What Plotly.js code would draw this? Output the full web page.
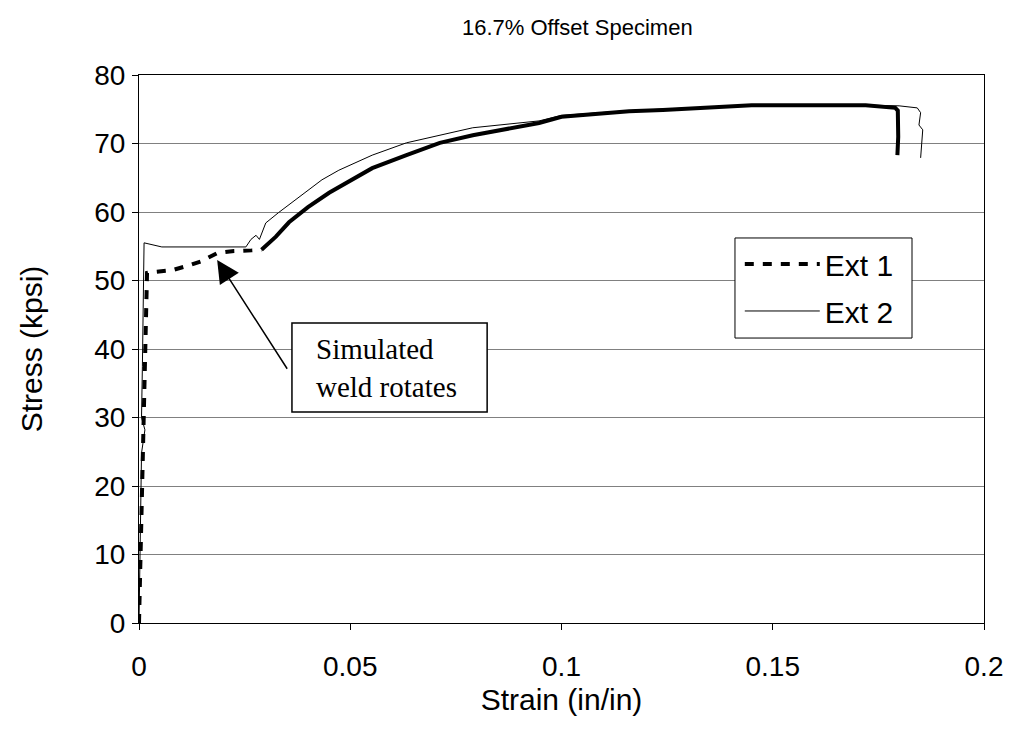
<!DOCTYPE html>
<html>
<head>
<meta charset="utf-8">
<script src="https://cdn.plot.ly/plotly-3.0.1.min.js"></script>
<style>html,body{margin:0;padding:0;background:#fff;}#chart{width:1011px;height:729px;}</style>
</head>
<body>
<div id="chart"></div>
<script>
// Ext 1 (dashed, elastic + weld rotation region)
const ext1DashStrain = [0, 0.0003, 0.0008, 0.0013, 0.0018, 0.0019, 0.0028, 0.0078, 0.0123, 0.0147, 0.0185, 0.0225, 0.0267, 0.029];
const ext1DashStress = [0, 8, 20, 32, 44, 51.1, 51.2, 51.5, 52.3, 52.8, 54.0, 54.3, 54.4, 54.5];
// Ext 1 (dense data, appears solid and thick)
const ext1Strain = [0.029, 0.0324, 0.0355, 0.040, 0.045, 0.0504, 0.0552, 0.0633, 0.0712, 0.079, 0.087, 0.0947, 0.100, 0.108, 0.116, 0.124, 0.1334, 0.145, 0.172, 0.179, 0.1796, 0.1797, 0.1795];
const ext1Stress = [54.5, 56.4, 58.5, 60.7, 62.8, 64.7, 66.4, 68.3, 70.1, 71.2, 72.1, 73.0, 73.9, 74.3, 74.7, 74.9, 75.2, 75.6, 75.6, 75.2, 74.8, 71.0, 68.3];
// Ext 2 (thin solid)
const ext2Strain = [0, 0.0004, 0.0006, 0.0014, 0.0006, 0.0008, 0.0012, 0.0054, 0.0253, 0.0265, 0.0277, 0.0285, 0.030, 0.033, 0.037, 0.0433, 0.0473, 0.0552, 0.0633, 0.0712, 0.079, 0.0947, 0.100, 0.116, 0.1334, 0.145, 0.172, 0.1799, 0.1842, 0.185, 0.1846, 0.1855, 0.185];
const ext2Stress = [0, 18, 24.8, 28.2, 30.0, 37.4, 55.5, 54.9, 54.9, 56.0, 56.6, 56.0, 58.4, 59.9, 61.8, 64.7, 66.1, 68.3, 70.1, 71.2, 72.3, 73.3, 74.1, 74.8, 75.3, 75.6, 75.6, 75.5, 75.2, 74.5, 72.7, 72.0, 67.9];

const xTicks = [0, 0.05, 0.1, 0.15, 0.2];
const xTickText = ['0', '0.05', '0.1', '0.15', '0.2'];
const yTicks = [0, 10, 20, 30, 40, 50, 60, 70, 80];

const seriesNames = ['Ext 1', 'Ext 2'];
const chartTitle = '16.7% Offset Specimen';
const xTitle = 'Strain (in/in)';
const yTitle = 'Stress (kpsi)';
const noteText = 'Simulated<br>weld rotates';
const arrowTip = [0.0185, 53];
const arrowTail = [0.0353, 36.9];
const noteBox = [0.0362, 0.0824, 30.8, 43.8];
const noteTextPos = [0.0415, 37.3];

const sans = 'Liberation Sans, Arial, sans-serif';
const serif = 'Liberation Serif, Times New Roman, serif';

const traces = [
  {x: ext1DashStrain, y: ext1DashStress, type: 'scatter', mode: 'lines', name: seriesNames[0], legendgroup: 'e1',
   line: {color: '#000', width: 4, dash: '9px,9px'}},
  {x: ext1Strain, y: ext1Stress, type: 'scatter', mode: 'lines', name: seriesNames[0], legendgroup: 'e1', showlegend: false,
   line: {color: '#000', width: 4}},
  {x: ext2Strain, y: ext2Stress, type: 'scatter', mode: 'lines', name: seriesNames[1], legendgroup: 'e2',
   line: {color: '#000', width: 1}}
];

const layout = {
  width: 1011, height: 729,
  margin: {l: 139, r: 27, t: 75, b: 106},
  paper_bgcolor: '#fff', plot_bgcolor: '#fff',
  font: {family: sans, color: '#000'},
  title: {text: chartTitle, font: {size: 22, family: sans, color: '#000'}, x: 0.571, xref: 'container', xanchor: 'center', y: 0.962, yref: 'container', yanchor: 'middle'},
  xaxis: {
    range: [0, 0.2], tickvals: xTicks, ticktext: xTickText, ticks: 'outside', ticklen: 6, tickcolor: '#000',
    showgrid: false, zeroline: false, showline: true, linecolor: '#000', linewidth: 1, mirror: true,
    tickfont: {size: 28, family: sans}, ticklabelstandoff: 12,
    title: {text: xTitle, font: {size: 30, family: sans}, standoff: 8}
  },
  yaxis: {
    range: [0, 80], tickvals: yTicks, ticks: 'outside', ticklen: 6, tickcolor: '#000',
    showgrid: true, gridcolor: '#808080', gridwidth: 1, zeroline: false, showline: true, linecolor: '#000', linewidth: 1, mirror: true,
    tickfont: {size: 28, family: sans}, ticklabelstandoff: 1,
    title: {text: yTitle, font: {size: 30, family: sans}, standoff: 42}
  },
  legend: {
    x: 0.711, y: 0.7026, xanchor: 'left', yanchor: 'top', xref: 'paper', yref: 'paper',
    bgcolor: 'rgba(0,0,0,0)', borderwidth: 0,
    font: {size: 30, family: sans, color: '#000'}, itemwidth: 75, tracegroupgap: 5
  },
  shapes: [
    {type: 'rect', xref: 'x', yref: 'y', x0: noteBox[0], x1: noteBox[1], y0: noteBox[2], y1: noteBox[3],
     line: {color: '#000', width: 1.5}, fillcolor: '#fff', layer: 'above'},
    {type: 'rect', xref: 'paper', yref: 'paper', x0: 0.7053, x1: 0.9148, y0: 0.520, y1: 0.7026,
     line: {color: '#000', width: 1}, fillcolor: '#fff', layer: 'above'}
  ],
  annotations: [
    {x: arrowTip[0], y: arrowTip[1], ax: arrowTail[0], ay: arrowTail[1], axref: 'x', ayref: 'y', xref: 'x', yref: 'y',
     text: '', showarrow: true, arrowhead: 2, arrowsize: 3, arrowwidth: 1.5, arrowcolor: '#000'},
    {x: noteTextPos[0], y: noteTextPos[1], xref: 'x', yref: 'y', xanchor: 'left', yanchor: 'middle', align: 'left',
     text: noteText, showarrow: false, font: {family: serif, size: 29, color: '#000'}}
  ],
  showlegend: true
};

Plotly.newPlot('chart', traces, layout, {displayModeBar: false, staticPlot: true});
</script>
</body>
</html>
